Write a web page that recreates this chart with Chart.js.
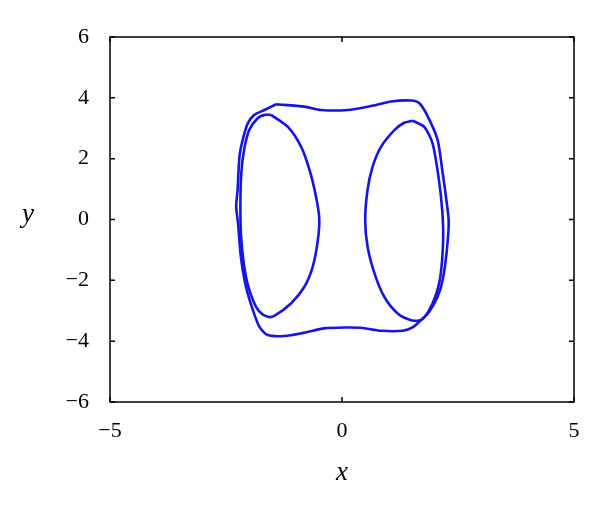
<!DOCTYPE html>
<html>
<head>
<meta charset="utf-8">
<script src="https://cdn.jsdelivr.net/npm/chart.js@4/dist/chart.umd.min.js"></script>
<style>
  html, body { margin: 0; padding: 0; background: #fff; }
  canvas { display: block; }
</style>
</head>
<body>
<canvas id="orbit" width="600" height="508"></canvas>
<script>
// tick values
const xTicks = [-5, 0, 5];
const yTicks = [-6, -4, -2, 0, 2, 4, 6];

// outer loop, read clockwise from the top-left corner
const outerX = [-1.42, -0.81, -0.45, 0.12, 0.62, 1.06, 1.49, 1.67, 1.85, 2.06, 2.17, 2.25, 2.30, 2.26, 2.17, 2.06, 1.88, 1.70, 1.52, 1.31, 0.84, 0.41, 0.05, -0.38, -0.81, -1.24, -1.60, -1.78, -1.92, -2.07, -2.18, -2.24, -2.28, -2.25, -2.21, -2.14, -2.03, -1.89, -1.67, -1.42];
const outerY = [3.79, 3.71, 3.60, 3.60, 3.73, 3.88, 3.91, 3.82, 3.38, 2.62, 1.52, 0.64, -0.07, -1.00, -1.99, -2.54, -3.03, -3.31, -3.55, -3.66, -3.66, -3.56, -3.55, -3.58, -3.72, -3.83, -3.80, -3.53, -2.98, -2.21, -1.22, -0.13, 0.42, 0.97, 2.07, 2.62, 3.16, 3.44, 3.60, 3.79];

// left lobe
const leftX = [-1.53, -1.17, -0.88, -0.70, -0.56, -0.49, -0.52, -0.63, -0.81, -1.10, -1.46, -1.60, -1.78, -1.92, -2.07, -2.17, -2.19, -2.17, -2.11, -2.00, -1.82, -1.67, -1.53];
const leftY = [3.44, 3.05, 2.39, 1.63, 0.75, 0.04, -0.67, -1.55, -2.21, -2.76, -3.17, -3.20, -3.03, -2.65, -1.88, -0.67, 0.42, 1.52, 2.29, 2.94, 3.33, 3.44, 3.44];

// right lobe
const rightX = [1.52, 1.77, 1.95, 2.08, 2.16, 2.18, 2.12, 2.01, 1.86, 1.70, 1.49, 1.20, 0.91, 0.70, 0.55, 0.50, 0.55, 0.66, 0.84, 1.13, 1.34, 1.52];
const rightY = [3.25, 3.05, 2.51, 1.40, 0.30, -0.67, -1.88, -2.54, -3.03, -3.31, -3.31, -3.09, -2.54, -1.77, -0.89, -0.02, 0.97, 1.74, 2.39, 2.94, 3.18, 3.25];

const BLUE = "#1414e6";
const SERIF = "'Liberation Serif', 'DejaVu Serif', serif";

function pts(xs, ys) {
  return xs.map((x, i) => ({ x: x, y: ys[i] }));
}

function curve(xs, ys) {
  return {
    data: pts(xs, ys),
    showLine: true,
    borderColor: BLUE,
    borderWidth: 2.6,
    pointRadius: 0,
    tension: 0.25,
    fill: false
  };
}

const minus = v => String(v).replace("-", "\u2212");

// frame, inward ticks on all four sides, axis letters
const frame = {
  id: "frame",
  afterDraw(chart) {
    const ctx = chart.ctx;
    const a = chart.chartArea;
    const xs = chart.scales.x, ys = chart.scales.y;
    const len = 5;
    ctx.save();
    ctx.strokeStyle = "#000";
    ctx.lineWidth = 1.5;
    ctx.strokeRect(a.left, a.top, a.right - a.left, a.bottom - a.top);
    ctx.beginPath();
    xTicks.forEach(v => {
      const px = xs.getPixelForValue(v);
      ctx.moveTo(px, a.bottom); ctx.lineTo(px, a.bottom - len);
      ctx.moveTo(px, a.top); ctx.lineTo(px, a.top + len);
    });
    yTicks.forEach(v => {
      const py = ys.getPixelForValue(v);
      ctx.moveTo(a.left, py); ctx.lineTo(a.left + len, py);
      ctx.moveTo(a.right, py); ctx.lineTo(a.right - len, py);
    });
    ctx.stroke();

    ctx.fillStyle = "#000";
    ctx.font = "italic 27px " + SERIF;
    ctx.textAlign = "center";
    ctx.textBaseline = "alphabetic";
    ctx.fillText("x", (a.left + a.right) / 2, 480);
    ctx.fillText("y", 28, 222);
    ctx.restore();
  }
};

new Chart(document.getElementById("orbit"), {
  type: "scatter",
  data: {
    datasets: [
      curve(outerX, outerY),
      curve(leftX, leftY),
      curve(rightX, rightY)
    ]
  },
  options: {
    responsive: false,
    animation: false,
    events: [],
    layout: { padding: { left: 0, top: 37, right: 26, bottom: 0 } },
    plugins: { legend: { display: false }, tooltip: { enabled: false } },
    scales: {
      x: {
        type: "linear",
        min: -5, max: 5,
        afterFit: s => { s.height = 106; },
        afterBuildTicks: s => { s.ticks = xTicks.map(v => ({ value: v })); },
        grid: { display: false },
        border: { display: false },
        ticks: {
          padding: 8,
          color: "#000",
          font: { family: SERIF, size: 22 },
          callback: minus
        }
      },
      y: {
        type: "linear",
        min: -6, max: 6,
        afterFit: s => { s.width = 110; },
        afterBuildTicks: s => { s.ticks = yTicks.map(v => ({ value: v })); },
        grid: { display: false },
        border: { display: false },
        ticks: {
          padding: 13,
          color: "#000",
          font: { family: SERIF, size: 22 },
          callback: minus
        }
      }
    }
  },
  plugins: [frame]
});
</script>
</body>
</html>
